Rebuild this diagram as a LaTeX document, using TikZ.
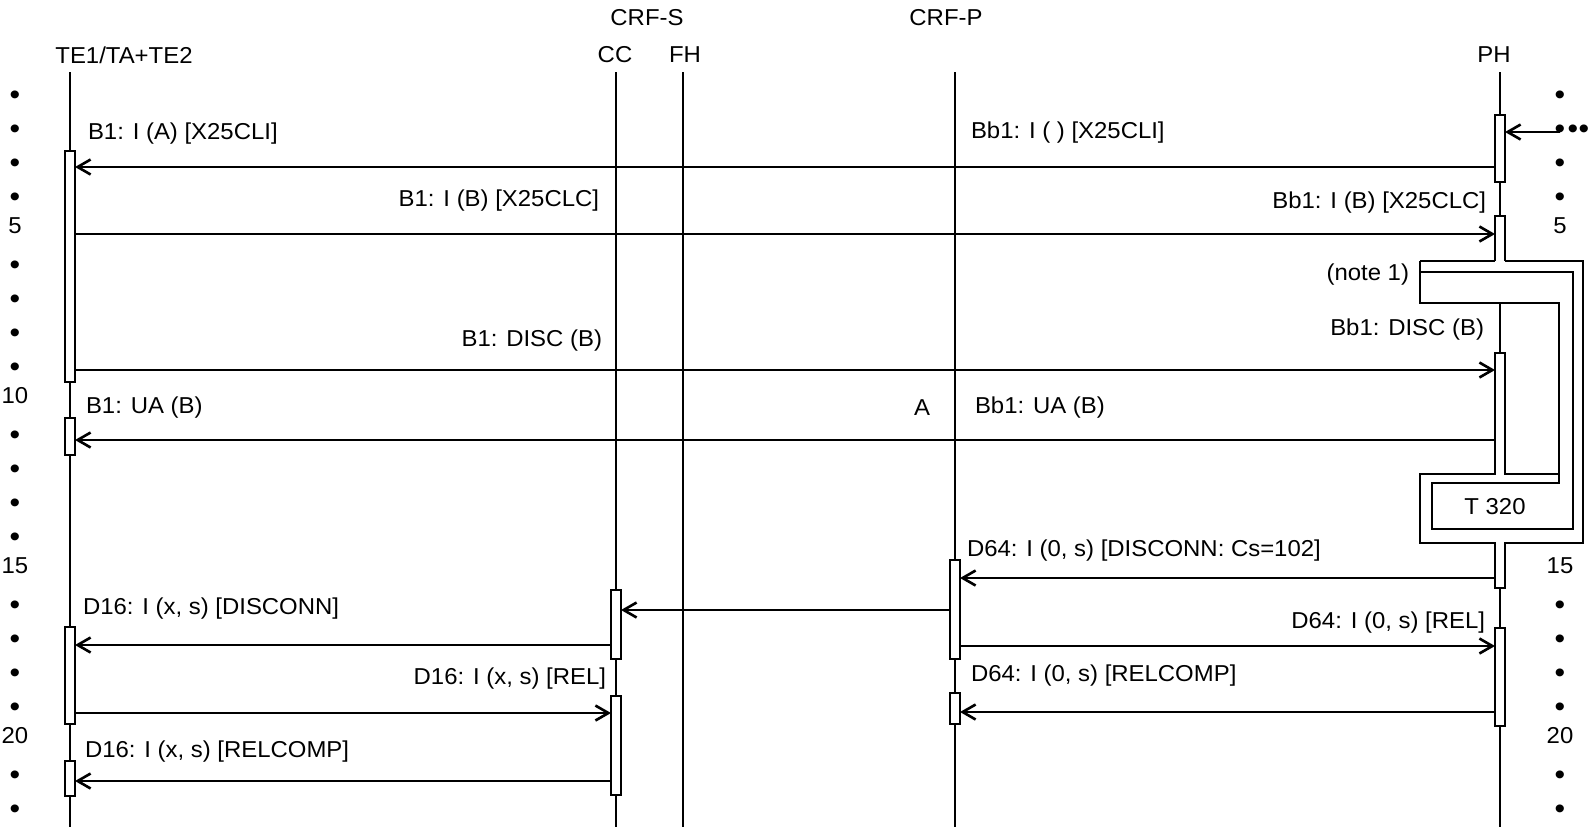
\documentclass[tikz,border=0pt]{standalone}
\usepackage{fontspec}
\setmainfont{Liberation Sans}[FakeStretch=1.04]
\usetikzlibrary{arrows.meta}
\newcommand{\actbox}[4]{\node[act, minimum height={#4-#3}] (#1) at (#2,{(#3+#4)/2}) {};}
\begin{document}
\begin{tikzpicture}[x=1pt,y=-1pt,
  every node/.style={font=\fontsize{23}{27}\selectfont, inner sep=0pt, outer sep=0pt},
  dot/.style={font=\fontsize{29}{30}\selectfont},
  life/.style={line width=2.4pt},
  act/.style={draw, fill=white, line width=2.4pt, minimum width=10pt, inner sep=0pt, outer sep=0pt},
  msg/.style={line width=2.6pt, -{Straight Barb[length=13pt,width=15pt]}},
  tmr/.style={line width=2.2pt, line join=miter},
]
\useasboundingbox (0,0) rectangle (1595,831);

% headers
\node (hcrfs) at (647,18) {CRF-S};
\node (hcrfp) at (946,18) {CRF-P};
\node (hte) at (124,55) {TE1/TA+TE2};
\node (hcc) at (615,55) {CC};
\node (hfh) at (685,55) {FH};
\node (hph) at (1494,55) {PH};

% lifelines
\coordinate (teT) at (70,72);   \coordinate (teE) at (70,827);
\coordinate (ccT) at (616,72);  \coordinate (ccE) at (616,827);
\coordinate (fhT) at (683,72);  \coordinate (fhE) at (683,827);
\coordinate (cpT) at (955,72);  \coordinate (cpE) at (955,827);
\coordinate (phT) at (1500,72); \coordinate (phE) at (1500,827);
\draw[life] (teT) -- (teE);
\draw[life] (ccT) -- (ccE);
\draw[life] (fhT) -- (fhE);
\draw[life] (cpT) -- (cpE);
\draw[life] (phT) -- (phE);

% row markers
\foreach \k in {1,...,22} {
  \pgfmathtruncatemacro\r{mod(\k,5)}
  \ifnum\r=0
    \node (L\k) at (15,{64+34*\k-8}) {\k};
  \else
    \node[dot] (L\k) at (15,{64+34*\k}) {•};
  \fi
}
\foreach \k in {1,3,4,16,17,18,19,21,22} {\node[dot] (R\k) at (1560,{64+34*\k}) {•};}
\foreach \k in {5,15,20} {\node (R\k) at (1560,{64+34*\k-8}) {\k};}
\node[dot] (R2) at (1560,132) {•};
\node[dot] (R2b) at (1573,132) {•};
\node[dot] (R2c) at (1584,132) {•};

% timer T 320 and note structure on PH
\fill[white] (1495,216) rectangle (1505,262);
\fill[white] (1420,261) -- (1583,261) -- (1583,543) -- (1420,543) -- (1420,474) -- (1559,474) -- (1559,303) -- (1420,303) -- cycle;
\fill[white] (1495,543) rectangle (1505,588);
\fill[white] (1495,353) rectangle (1505,474);
\draw[tmr] (1495,261) -- (1495,216) -- (1505,216) -- (1505,261);
\draw[tmr] (1420,261) -- (1495,261);
\draw[tmr] (1505,261) -- (1583,261) -- (1583,543) -- (1505,543) -- (1505,588) -- (1495,588) -- (1495,543) -- (1420,543) -- (1420,474) -- (1495,474) -- (1495,353) -- (1505,353) -- (1505,474) -- (1559,474);
\draw[tmr] (1420,261) -- (1420,303) -- (1559,303) -- (1559,483) -- (1432,483) -- (1432,529) -- (1573,529) -- (1573,272) -- (1420,272);
\node (note) [anchor=east] at (1409,275) {(note 1)};
\node (t320) at (1495,507) {T 320};
\coordinate (phI) at (1495,234);
\coordinate (phDisc) at (1495,370);
\coordinate (phUA) at (1495,440);
\coordinate (phNeck) at (1495,578);

% activation boxes
\actbox{teA}{70}{151}{382}
\actbox{teB}{70}{418}{455}
\actbox{teC}{70}{627}{724}
\actbox{teD}{70}{761}{796}
\actbox{phA}{1500}{115}{182}
\actbox{phC}{1500}{628}{726}
\actbox{ccA}{616}{590}{659}
\actbox{ccB}{616}{696}{795}
\actbox{cpA}{955}{560}{659}
\actbox{cpB}{955}{693}{724}

% messages
\draw[msg] (R2.center) -- (phA.east |- R2);
\draw[msg] (phA.west |- 0,167) -- (teA.east |- 0,167);
\node (l1a) [anchor=west] at (88,134) {B1: I (A) [X25CLI]};
\node (l1b) [anchor=west] at (971,133) {Bb1: I ( ) [X25CLI]};

\draw[msg] (teA.east |- phI) -- (phI);
\node (l2a) [anchor=east] at (599,201) {B1: I (B) [X25CLC]};
\node (l2b) [anchor=east] at (1486,203) {Bb1: I (B) [X25CLC]};

\draw[msg] (teA.east |- phDisc) -- (phDisc);
\node (l3a) [anchor=east] at (602,341) {B1: DISC (B)};
\node (l3b) [anchor=east] at (1484,330) {Bb1: DISC (B)};

\draw[msg] (phUA) -- (teB.east |- phUA);
\node (l4a) [anchor=west] at (86,408) {B1: UA (B)};
\node (l4m) at (922,408) {A};
\node (l4b) [anchor=west] at (975,408) {Bb1: UA (B)};

\draw[msg] (phNeck) -- (cpA.east |- phNeck);
\node (l5) [anchor=west] at (967,551) {D64: I (0, s) [DISCONN: Cs=102]};

\draw[msg] (cpA.west |- 0,610) -- (ccA.east |- 0,610);

\draw[msg] (ccA.west |- 0,645) -- (teC.east |- 0,645);
\node (l7) [anchor=west] at (83,609) {D16: I (x, s) [DISCONN]};

\draw[msg] (cpA.east |- 0,646) -- (phC.west |- 0,646);
\node (l8) [anchor=east] at (1485,623) {D64: I (0, s) [REL]};

\draw[msg] (teC.east |- 0,713) -- (ccB.west |- 0,713);
\node (l9) [anchor=east] at (606,679) {D16: I (x, s) [REL]};

\draw[msg] (phC.west |- 0,712) -- (cpB.east |- 0,712);
\node (l10) [anchor=west] at (971,676) {D64: I (0, s) [RELCOMP]};

\draw[msg] (ccB.west |- 0,781) -- (teD.east |- 0,781);
\node (l11) [anchor=west] at (85,752) {D16: I (x, s) [RELCOMP]};
\end{tikzpicture}
\end{document}
